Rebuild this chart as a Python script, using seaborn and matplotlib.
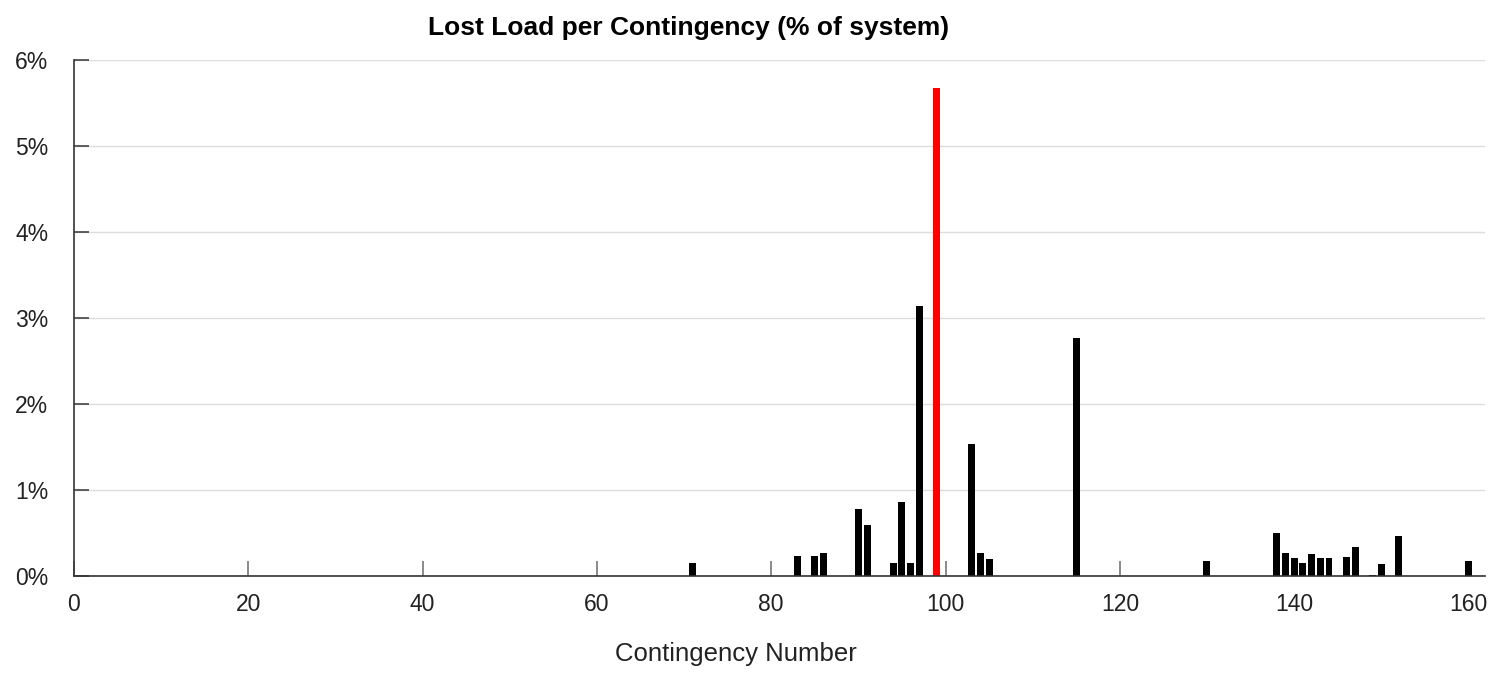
import matplotlib
matplotlib.use("Agg")
import matplotlib.pyplot as plt
import seaborn as sns
import pandas as pd
from matplotlib.ticker import FuncFormatter

# Data (contingency number, lost load % of system)
contingency = [71, 83, 85, 86, 90, 91, 94, 95, 96, 97, 99, 103, 104, 105, 115,
               130, 138, 139, 140, 141, 142, 143, 144, 146, 147, 149, 150, 152, 160]
lost_load = [0.15, 0.23, 0.23, 0.27, 0.78, 0.59, 0.15, 0.86, 0.15, 3.14, 5.67, 1.535, 0.27, 0.20, 2.77,
             0.17, 0.50, 0.27, 0.21, 0.15, 0.26, 0.21, 0.21, 0.22, 0.34, 0.015, 0.14, 0.47, 0.17]
highlight = [c == 99 for c in contingency]

title_text = "Lost Load per Contingency (% of system)"
xlabel_text = "Contingency Number"
x_ticks = [0, 20, 40, 60, 80, 100, 120, 140, 160]
y_ticks = [0, 1, 2, 3, 4, 5, 6]

df = pd.DataFrame({"contingency": contingency, "lost": lost_load, "hl": highlight})

sns.set_style("white")
plt.rcParams['font.family'] = ['Liberation Sans', 'DejaVu Sans']

fig = plt.figure(figsize=(14.9, 6.76), dpi=100)
ax = fig.add_axes([74/1490, 1-576/676, (1485-74)/1490, (576-60)/676])

sns.barplot(data=df, x="contingency", y="lost", hue="hl", native_scale=True,
            palette={False: "#000000", True: "#ff0000"}, dodge=False, width=0.8,
            legend=False, ax=ax, linewidth=0, saturation=1)

ax.set_xlim(0, 161.9)
ax.set_ylim(0, 6)
ax.set_xticks(x_ticks)
ax.set_yticks(y_ticks)
ax.yaxis.set_major_formatter(FuncFormatter(lambda v, p: f"{v:.0f}%"))
ax.grid(axis="y", color="#dddddd", linewidth=1)
ax.set_axisbelow(True)
for s in ["top", "right"]:
    ax.spines[s].set_visible(False)
for s in ["left", "bottom"]:
    ax.spines[s].set_color("#333333")
    ax.spines[s].set_linewidth(1.2)
ax.tick_params(axis="x", bottom=True, direction="in", length=11, color="#777777", width=1.2,
               labelsize=16.5, pad=12, labelcolor="#222222")
ax.tick_params(axis="y", left=True, direction="in", length=11, color="#444444", width=1.2,
               labelsize=16.5, pad=18.5, labelcolor="#222222")
ax.set_xlabel("")
ax.set_ylabel("")

fig.text(689/1490, 1-28/676, title_text, ha="center", va="center",
         fontsize=19, fontweight="bold", color="#000000")
fig.text(736/1490, 1-654/676, xlabel_text, ha="center", va="center",
         fontsize=18.5, color="#222222")

fig.savefig("out.png", dpi=100)
